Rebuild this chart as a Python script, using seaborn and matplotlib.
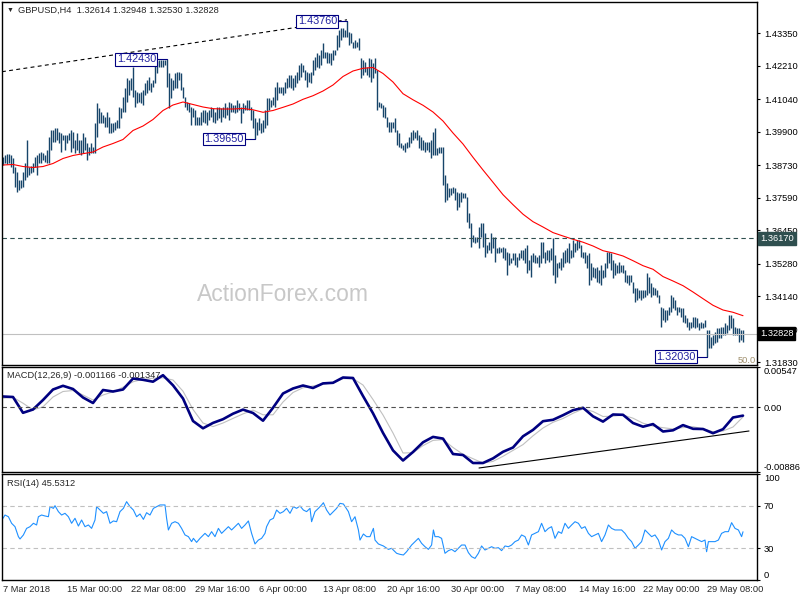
import numpy as np
import pandas as pd
import matplotlib
matplotlib.use("Agg")
import matplotlib.pyplot as plt
import seaborn as sns

sns.set_style("white")
plt.rcParams['font.family'] = ['Liberation Sans', 'DejaVu Sans']

# H4 bars, high / low
highs = [1.3902, 1.3909, 1.3912, 1.3912, 1.3909, 1.3898, 1.3867, 1.3849, 1.3821, 1.3821,
         1.3849, 1.3881, 1.3961, 1.3867, 1.3870, 1.3881, 1.3902, 1.3909, 1.3916, 1.3919,
         1.3916, 1.3909, 1.3926, 1.3972, 1.3996, 1.3996, 1.4003, 1.4003, 1.3989, 1.3986,
         1.3979, 1.3979, 1.3979, 1.3986, 1.3996, 1.3989, 1.3961, 1.3986, 1.3961, 1.3961,
         1.3986, 1.3972, 1.3951, 1.3937, 1.3951, 1.3937, 1.4021, 1.4091, 1.4073, 1.4059,
         1.4049, 1.4042, 1.4059, 1.4042, 1.4021, 1.4021, 1.4024, 1.4031, 1.4077, 1.4073,
         1.4112, 1.4143, 1.4178, 1.4171, 1.4178, 1.4217, 1.4136, 1.4129, 1.4126, 1.4129,
         1.4136, 1.4161, 1.4171, 1.4182, 1.4161, 1.4171, 1.4231, 1.4238, 1.4241, 1.4240,
         1.4241, 1.4241, 1.4243, 1.4196, 1.4178, 1.4171, 1.4196, 1.4199, 1.4199, 1.4196,
         1.4147, 1.4112, 1.4094, 1.4091, 1.4077, 1.4073, 1.4066, 1.4042, 1.4042, 1.4059,
         1.4066, 1.4066, 1.4059, 1.4066, 1.4077, 1.4073, 1.4059, 1.4077, 1.4077, 1.4073,
         1.4077, 1.4091, 1.4077, 1.4094, 1.4091, 1.4084, 1.4084, 1.4101, 1.4091, 1.4077,
         1.4091, 1.4084, 1.4101, 1.4101, 1.4077, 1.4066, 1.4038, 1.4024, 1.4038, 1.4021,
         1.4031, 1.4066, 1.4108, 1.4108, 1.4101, 1.4112, 1.4147, 1.4164, 1.4147, 1.4147,
         1.4147, 1.4164, 1.4178, 1.4189, 1.4189, 1.4178, 1.4189, 1.4199, 1.4224, 1.4231,
         1.4224, 1.4206, 1.4199, 1.4196, 1.4199, 1.4241, 1.4252, 1.4266, 1.4259, 1.4276,
         1.4301, 1.4269, 1.4269, 1.4266, 1.4266, 1.4276, 1.4276, 1.4329, 1.4346, 1.4353,
         1.4353, 1.4346, 1.4376, 1.4339, 1.4336, 1.4304, 1.4311, 1.4304, 1.4318, 1.4248,
         1.4241, 1.4234, 1.4217, 1.4248, 1.4245, 1.4231, 1.4248, 1.4206, 1.4094, 1.4091,
         1.4084, 1.4077, 1.4042, 1.4024, 1.4024, 1.4024, 1.4038, 1.3996, 1.3986, 1.3951,
         1.3944, 1.3951, 1.3954, 1.3972, 1.3989, 1.3996, 1.3989, 1.3996, 1.3979, 1.3972,
         1.3961, 1.3954, 1.3954, 1.3954, 1.3961, 1.3989, 1.4003, 1.3933, 1.3937, 1.3937,
         1.3937, 1.3839, 1.3811, 1.3793, 1.3793, 1.3797, 1.3793, 1.3779, 1.3776, 1.3779,
         1.3776, 1.3776, 1.3762, 1.3706, 1.3671, 1.3629, 1.3622, 1.3622, 1.3657, 1.3671,
         1.3671, 1.3636, 1.3594, 1.3604, 1.3636, 1.3622, 1.3622, 1.3583, 1.3587, 1.3583,
         1.3587, 1.3583, 1.3569, 1.3566, 1.3548, 1.3566, 1.3566, 1.3552, 1.3566, 1.3576,
         1.3576, 1.3583, 1.3594, 1.3541, 1.3559, 1.3566, 1.3559, 1.3552, 1.3559, 1.3604,
         1.3604, 1.3569, 1.3576, 1.3576, 1.3583, 1.3618, 1.3559, 1.3531, 1.3534, 1.3548,
         1.3569, 1.3576, 1.3583, 1.3601, 1.3576, 1.3611, 1.3601, 1.3611, 1.3611, 1.3594,
         1.3569, 1.3569, 1.3559, 1.3566, 1.3531, 1.3517, 1.3513, 1.3517, 1.3506, 1.3524,
         1.3506, 1.3531, 1.3569, 1.3569, 1.3566, 1.3541, 1.3531, 1.3524, 1.3534, 1.3524,
         1.3524, 1.3506, 1.3489, 1.3489, 1.3489, 1.3464, 1.3443, 1.3443, 1.3436, 1.3436,
         1.3436, 1.3436, 1.3496, 1.3482, 1.3461, 1.3446, 1.3443, 1.3436, 1.3419, 1.3377,
         1.3373, 1.3366, 1.3366, 1.3377, 1.3419, 1.3412, 1.3401, 1.3377, 1.3377, 1.3373,
         1.3373, 1.3349, 1.3338, 1.3324, 1.3324, 1.3342, 1.3342, 1.3338, 1.3321, 1.3324,
         1.3321, 1.3331, 1.3296, 1.3296, 1.3272, 1.3279, 1.3289, 1.3303, 1.3303, 1.3307,
         1.3307, 1.3321, 1.3314, 1.3349, 1.3349, 1.3338, 1.3307, 1.3303, 1.3303, 1.3296,
         1.32948]
lows = [1.3874, 1.3881, 1.3877, 1.3881, 1.3867, 1.3846, 1.3797, 1.3779, 1.3786, 1.3793,
        1.3797, 1.3821, 1.3832, 1.3839, 1.3846, 1.3849, 1.3867, 1.3839, 1.3881, 1.3881,
        1.3891, 1.3884, 1.3881, 1.3881, 1.3926, 1.3954, 1.3954, 1.3961, 1.3951, 1.3919,
        1.3961, 1.3926, 1.3951, 1.3961, 1.3919, 1.3933, 1.3916, 1.3926, 1.3916, 1.3909,
        1.3916, 1.3926, 1.3891, 1.3909, 1.3916, 1.3916, 1.3916, 1.3972, 1.4021, 1.4021,
        1.4021, 1.4007, 1.4007, 1.3986, 1.3986, 1.3989, 1.3996, 1.4003, 1.4003, 1.4038,
        1.4059, 1.4059, 1.4094, 1.4119, 1.4136, 1.4112, 1.4077, 1.4091, 1.4094, 1.4091,
        1.4084, 1.4119, 1.4126, 1.4136, 1.4129, 1.4147, 1.4161, 1.4196, 1.4217, 1.4217,
        1.4217, 1.4224, 1.4147, 1.4073, 1.4108, 1.4136, 1.4143, 1.4143, 1.4171, 1.4136,
        1.4108, 1.4077, 1.4066, 1.4059, 1.4014, 1.4042, 1.4014, 1.4014, 1.4014, 1.4014,
        1.4024, 1.4021, 1.4014, 1.4031, 1.4042, 1.4024, 1.4021, 1.4031, 1.4038, 1.4024,
        1.4042, 1.4038, 1.4049, 1.4031, 1.4059, 1.4059, 1.4056, 1.4059, 1.4066, 1.4021,
        1.4056, 1.4066, 1.4066, 1.4066, 1.4031, 1.4003, 1.3965, 1.3979, 1.3996, 1.3986,
        1.3989, 1.4003, 1.4014, 1.4066, 1.4077, 1.4084, 1.4077, 1.4101, 1.4126, 1.4126,
        1.4119, 1.4126, 1.4143, 1.4147, 1.4143, 1.4136, 1.4147, 1.4161, 1.4171, 1.4182,
        1.4199, 1.4171, 1.4147, 1.4164, 1.4161, 1.4189, 1.4206, 1.4217, 1.4213, 1.4224,
        1.4248, 1.4248, 1.4231, 1.4231, 1.4224, 1.4241, 1.4259, 1.4276, 1.4287, 1.4311,
        1.4322, 1.4322, 1.4322, 1.4294, 1.4301, 1.4283, 1.4283, 1.4287, 1.4276, 1.4178,
        1.4189, 1.4199, 1.4189, 1.4182, 1.4164, 1.4178, 1.4196, 1.4066, 1.4077, 1.4073,
        1.4042, 1.4038, 1.4007, 1.3989, 1.3989, 1.4003, 1.3989, 1.3944, 1.3937, 1.3933,
        1.3926, 1.3919, 1.3933, 1.3937, 1.3951, 1.3961, 1.3968, 1.3961, 1.3933, 1.3926,
        1.3926, 1.3919, 1.3926, 1.3919, 1.3898, 1.3909, 1.3909, 1.3909, 1.3916, 1.3916,
        1.3804, 1.3744, 1.3751, 1.3762, 1.3769, 1.3776, 1.3751, 1.3716, 1.3727, 1.3744,
        1.3758, 1.3758, 1.3674, 1.3653, 1.3587, 1.3604, 1.3601, 1.3604, 1.3583, 1.3622,
        1.3587, 1.3552, 1.3566, 1.3576, 1.3566, 1.3583, 1.3534, 1.3566, 1.3566, 1.3569,
        1.3548, 1.3541, 1.3489, 1.3524, 1.3531, 1.3541, 1.3524, 1.3517, 1.3541, 1.3548,
        1.3541, 1.3531, 1.3496, 1.3506, 1.3482, 1.3534, 1.3531, 1.3531, 1.3517, 1.3531,
        1.3548, 1.3531, 1.3541, 1.3534, 1.3541, 1.3489, 1.3461, 1.3482, 1.3513, 1.3506,
        1.3517, 1.3531, 1.3534, 1.3531, 1.3548, 1.3552, 1.3569, 1.3576, 1.3583, 1.3552,
        1.3548, 1.3531, 1.3513, 1.3454, 1.3471, 1.3482, 1.3478, 1.3464, 1.3461, 1.3454,
        1.3478, 1.3482, 1.3513, 1.3531, 1.3506, 1.3478, 1.3489, 1.3496, 1.3496, 1.3499,
        1.3496, 1.3464, 1.3461, 1.3454, 1.3464, 1.3426, 1.3394, 1.3401, 1.3408, 1.3401,
        1.3408, 1.3412, 1.3419, 1.3426, 1.3412, 1.3419, 1.3419, 1.3412, 1.3391, 1.3307,
        1.3331, 1.3324, 1.3331, 1.3349, 1.3359, 1.3373, 1.3366, 1.3349, 1.3359, 1.3342,
        1.3324, 1.3321, 1.3307, 1.3296, 1.3303, 1.3307, 1.3303, 1.3307, 1.3296, 1.3303,
        1.3303, 1.3307, 1.3203, 1.3233, 1.3233, 1.3244, 1.3251, 1.3254, 1.3268, 1.3268,
        1.3279, 1.3279, 1.3286, 1.3296, 1.3303, 1.3279, 1.3279, 1.3279, 1.3254, 1.3261,
        1.3253]

# moving average, MACD and signal, read every 5 bars
ma = [1.38735, 1.38753, 1.38682, 1.38648, 1.38682, 1.38788, 1.38963, 1.39068, 1.39131, 1.39190,
      1.39365, 1.39488, 1.39628, 1.39943, 1.40100, 1.40328, 1.40643, 1.40835, 1.40940, 1.40853,
      1.40765, 1.40706, 1.40695, 1.40695, 1.40713, 1.40667, 1.40580, 1.40643, 1.40754, 1.40870,
      1.41034, 1.41160, 1.41325, 1.41535, 1.41833, 1.42025, 1.42120, 1.42148, 1.41938, 1.41640,
      1.41230, 1.41017, 1.40825, 1.40590, 1.40275, 1.39855, 1.39470, 1.39004, 1.38560, 1.38130,
      1.37696, 1.37346, 1.37013, 1.36751, 1.36565, 1.36369, 1.36250, 1.36135, 1.36033, 1.35900,
      1.35736, 1.35655, 1.35550, 1.35386, 1.35211, 1.35085, 1.34830, 1.34675, 1.34511, 1.34290,
      1.34056, 1.33825, 1.33660, 1.33580, 1.33461]
macd = [0.001444, 0.001376, -0.000781, -0.000330, 0.000966, 0.002399, 0.002904, 0.002467, 0.001307, 0.000557,
        0.002331, 0.002126, 0.002399, 0.003900, 0.003723, 0.003464, 0.004351, 0.002972, 0.001171, -0.001900,
        -0.002896, -0.002159, -0.001654, -0.000904, -0.000344, -0.000808, -0.001859, -0.000098, 0.001853, 0.002536,
        0.002945, 0.002604, 0.003232, 0.003314, 0.004037, 0.003969, 0.001512, -0.000849, -0.003524, -0.005912,
        -0.007291, -0.006131, -0.004807, -0.004070, -0.004302, -0.006404, -0.006540, -0.007632, -0.007632, -0.007004,
        -0.006104, -0.005517, -0.003988, -0.003115, -0.001927, -0.001736, -0.001108, -0.000426, -0.000098, -0.001258,
        -0.001982, -0.001013, -0.001054, -0.002173, -0.002678, -0.002323, -0.003333, -0.003169, -0.002459, -0.002964,
        -0.002992, -0.003565, -0.003019, -0.001422, -0.001166]
signal = [0.001212, 0.001335, 0.000529, -0.000385, 0.000038, 0.001376, 0.002126, 0.002263, 0.001649, 0.000966,
          0.001649, 0.002085, 0.002713, 0.003450, 0.003805, 0.003928, 0.003996, 0.003696, 0.002167, -0.000330,
          -0.002173, -0.002664, -0.002173, -0.001545, -0.000931, -0.000412, -0.001054, -0.001054, 0.000693, 0.001990,
          0.002631, 0.002877, 0.003150, 0.003300, 0.003873, 0.003887, 0.003013, 0.001034, -0.001081, -0.003538,
          -0.006267, -0.006226, -0.005257, -0.004548, -0.004438, -0.005517, -0.006445, -0.007045, -0.007646, -0.007414,
          -0.006718, -0.005912, -0.005121, -0.003920, -0.002855, -0.002077, -0.001559, -0.000849, -0.000249, -0.000603,
          -0.001286, -0.001245, -0.001081, -0.001518, -0.002200, -0.002596, -0.002814, -0.002978, -0.002801, -0.002678,
          -0.002964, -0.003360, -0.003265, -0.002719, -0.001347]

# RSI(14)
rsi_idx = [0, 1, 2.7, 4.3, 6, 7.7, 8.5, 10.2, 11.8, 13.5,
           15.2, 16.8, 17.7, 19.3, 21, 22.7, 23.5, 25.2, 26, 27.7,
           29.3, 31, 32.7, 34.3, 36, 37.7, 39.3, 41, 42.7, 44.3,
           46, 46.8, 48.5, 50.2, 51.8, 53.5, 55.2, 56.8, 58.5, 60.2,
           61.8, 63.5, 65.2, 66.8, 68.5, 70.2, 71.8, 73.5, 75.2, 76.8,
           78.5, 81, 81.8, 82.7, 84.3, 86, 87.7, 89.3, 91, 92.7,
           94.3, 95.2, 96.8, 98.5, 101, 102.7, 104.3, 106, 107.7, 109.3,
           111, 112.7, 114.3, 116, 117.7, 119.3, 121, 122.7, 124.3, 126,
           127.7, 129.3, 131, 131.8, 133.5, 135.2, 136.8, 138.5, 140.2, 141.8,
           143.5, 145.2, 146.8, 148.5, 150.2, 151.8, 153.5, 154.3, 156, 157.7,
           159.3, 160.2, 161.8, 163.5, 165.2, 166.8, 168.5, 170.2, 172.7, 174.3,
           176, 177.7, 178.5, 180.2, 181.8, 183.5, 185.2, 186, 187.7, 190.2,
           192.7, 194.3, 196.8, 198.5, 200.2, 201.8, 204.3, 206, 207.7, 209.3,
           211, 212.7, 214.3, 215.2, 216, 217.7, 219.3, 221, 222.7, 224.3,
           226, 227.7, 229.3, 231, 232.7, 234.3, 236, 237.7, 239.3, 241,
           242.7, 244.3, 246, 247.7, 249.3, 251, 252.7, 254.3, 256, 257.7,
           259.3, 261, 262.7, 264.3, 266, 267.7, 269.3, 271, 272.7, 274.3,
           276, 277.7, 279.3, 281, 282.7, 284.3, 286, 287.7, 289.3, 291,
           292.7, 294.3, 296, 297.7, 299.3, 301, 302.7, 304.3, 306, 307.7,
           309.3, 311, 312.7, 314.3, 316, 317.7, 319.3, 321, 322.7, 324.3,
           326, 327.7, 329.3, 331, 332.7, 334.3, 336, 337.7, 339.3, 341,
           342.7, 344.3, 346, 347.7, 349.3, 351, 351.8, 352.7, 354.3, 356,
           357.7, 359.3, 361, 362.7, 364.3, 366, 367.7, 369.3, 370]
rsi_val = [58.2, 61.3, 59.7, 53.5, 50.3, 40.9, 38.7, 42.5, 48.7, 50.3,
           53.5, 51.9, 59.7, 61.3, 60.4, 59.7, 69.2, 67.6, 70.1, 64.5,
           61.3, 62.9, 59.7, 53.5, 58.2, 50.9, 56.6, 50.3, 51.9, 48.7,
           56.6, 69.2, 66.0, 62.9, 64.5, 53.5, 55.7, 55.0, 64.5, 67.6,
           73.9, 69.2, 66.0, 59.7, 62.3, 57.2, 63.5, 61.3, 67.6, 69.2,
           70.8, 70.8, 58.2, 47.2, 53.5, 55.0, 53.5, 48.7, 42.5, 40.9,
           36.2, 39.3, 35.5, 39.3, 44.0, 40.9, 45.6, 40.9, 48.7, 44.0,
           47.2, 50.3, 47.2, 50.3, 53.5, 48.7, 51.9, 55.7, 44.0, 34.0,
           37.7, 39.3, 44.0, 50.3, 56.6, 58.2, 66.0, 62.9, 64.5, 67.6,
           62.9, 69.2, 67.6, 69.8, 66.0, 64.5, 67.6, 55.0, 64.5, 67.6,
           70.8, 72.9, 66.0, 61.3, 64.5, 67.6, 72.3, 71.7, 64.5, 55.0,
           59.7, 47.2, 37.7, 43.4, 40.9, 40.9, 48.7, 37.7, 34.0, 32.1,
           28.9, 29.9, 25.2, 24.2, 23.6, 26.7, 33.0, 36.2, 39.3, 34.6,
           31.4, 28.9, 33.0, 47.2, 40.9, 40.9, 39.3, 25.2, 27.7, 28.9,
           26.7, 29.9, 33.0, 33.0, 25.8, 22.0, 20.4, 25.2, 32.1, 28.3,
           29.9, 31.4, 29.9, 30.5, 27.7, 32.1, 31.4, 33.0, 36.2, 37.7,
           42.5, 40.9, 33.0, 42.5, 44.0, 45.6, 53.5, 45.6, 48.7, 50.3,
           39.3, 45.6, 44.0, 53.5, 48.7, 51.9, 55.0, 53.5, 48.7, 50.3,
           44.0, 40.9, 42.5, 44.0, 36.2, 42.5, 51.9, 48.7, 47.2, 47.2,
           47.2, 44.0, 39.3, 36.2, 29.9, 33.0, 36.2, 47.2, 44.0, 40.9,
           42.5, 37.7, 28.3, 36.2, 39.3, 47.2, 44.0, 42.5, 42.5, 39.3,
           31.4, 40.9, 39.3, 37.7, 36.2, 37.7, 26.7, 36.2, 36.2, 36.2,
           37.7, 44.0, 45.6, 45.6, 54.1, 48.7, 47.2, 40.9, 45.5]

tick_bars = [0, 32, 64, 96, 128, 160, 192, 224, 256, 288, 320, 352]
tick_labels = ["7 Mar 2018", "15 Mar 00:00", "22 Mar 08:00", "29 Mar 16:00", "6 Apr 00:00",
               "13 Apr 08:00", "20 Apr 16:00", "30 Apr 00:00", "7 May 08:00", "14 May 16:00",
               "22 May 00:00", "29 May 08:00"]
price_ticks = [1.43350, 1.42210, 1.41040, 1.39900, 1.38730, 1.37590, 1.36450,
               1.35280, 1.34140, 1.32980, 1.31830]

bars = pd.DataFrame({"bar": np.arange(len(highs)), "high": highs, "low": lows})
lines = pd.DataFrame({"bar": np.arange(0, 371, 5), "ma": ma, "macd": macd, "signal": signal})
rsi = pd.DataFrame({"bar": rsi_idx, "rsi": rsi_val})

FS = 6.7
bar_col = "#17456a"

fig = plt.figure(figsize=(8, 6), dpi=100)
fig.patch.set_facecolor("white")
W = 755 / 800
ax = fig.add_axes([2 / 800, 1 - 365 / 600, W, 363 / 600])
ax2 = fig.add_axes([2 / 800, 1 - 472 / 600, W, 105 / 600])
ax3 = fig.add_axes([2 / 800, 1 - 580 / 600, W, 106 / 600])

for a in (ax, ax2, ax3):
    a.set_xlim(-0.5, 377)
    for s in a.spines.values():
        s.set_color("black")
        s.set_linewidth(1.0)
    a.yaxis.tick_right()
    a.tick_params(axis="y", direction="out", length=2.5, width=0.8, pad=2.5,
                  labelsize=FS, colors="black")

# ---- main price panel
ax.text(139.75, 1.4451 - 0.00035 * 294.5, "ActionForex.com", ha="center", va="center",
        fontsize=16.5, color="#c8c8c8", zorder=0)
ax.vlines(bars["bar"], bars["low"], bars["high"], color=bar_col, lw=1.0)
sns.lineplot(data=lines, x="bar", y="ma", ax=ax, color="#ff0000", linewidth=0.8)
ax.set_ylim(1.31735, 1.4444)
ax.axhline(1.3617, color="#2f4f4f", lw=0.8, ls=(0, (4, 3)))
ax.axhline(1.32828, color="#c0c0c0", lw=0.8)
ax.plot([-0.5, 172], [1.4200, 1.43817], color="black", lw=0.8, ls=(0, (3.5, 3)))
ax.set_yticks(price_ticks)
ax.set_yticklabels(["%.5f" % t for t in price_ticks])
ax.set_xticks([])
ax.set_xlabel("")
ax.set_ylabel("")

# swing high / low labels
swings = [(76.5, 82, 1.4243, "1.42430"), (167.0, 172, 1.4376, "1.43760"),
          (120.5, 126, 1.3965, "1.39650"), (346.5, 352, 1.3203, "1.32030")]
for xb, xe, p, txt in swings:
    ax.plot([xb + 0.5, xe], [p, p], color="#000080", lw=0.8, zorder=5)
    ax.text(xb, p, txt, ha="right", va="center", fontsize=7.8, color="#2020a0", zorder=6,
            bbox=dict(boxstyle="square,pad=0.12", fc="white", ec="#000080", lw=0.8))

yt = ax.get_yaxis_transform()
ax.text(1.004, 1.3617, "1.36170", transform=yt, ha="left", va="center", fontsize=FS,
        color="white", clip_on=False,
        bbox=dict(boxstyle="square,pad=0.2", fc="#2f4f4f", ec="#2f4f4f"))
ax.text(1.004, 1.32828, "1.32828", transform=yt, ha="left", va="center", fontsize=FS,
        color="white", clip_on=False,
        bbox=dict(boxstyle="square,pad=0.2", fc="black", ec="black"))
ax.text(0.998, 0.006, "50.0", transform=ax.transAxes, ha="right", va="baseline",
        fontsize=FS, color="#a0906e")

# ---- MACD panel
sns.lineplot(data=lines, x="bar", y="signal", ax=ax2, color="#c0c0c0", linewidth=0.8)
sns.lineplot(data=lines, x="bar", y="macd", ax=ax2, color="#000080", linewidth=1.9)
ax2.set_ylim(-0.00886, 0.00547)
ax2.axhline(0, color="#505050", lw=0.8, ls=(0, (4, 3)))
ax2.plot([238, 373], [-0.008314, -0.003265], color="black", lw=0.8)
ax2.set_yticks([-0.00886, 0, 0.00547])
ax2.set_yticklabels(["-0.00886", "0.00", "0.00547"])
lbl = ax2.get_yticklabels()
lbl[0].set_va("bottom")
lbl[2].set_va("top")
ax2.set_xticks([])
ax2.set_xlabel("")
ax2.set_ylabel("")

# ---- RSI panel
sns.lineplot(data=rsi, x="bar", y="rsi", ax=ax3, color="#1e90ff", linewidth=0.8)
ax3.set_ylim(0, 100)
ax3.axhline(70, color="#c0c0c0", lw=0.8, ls=(0, (4, 3)))
ax3.axhline(30, color="#c0c0c0", lw=0.8, ls=(0, (4, 3)))
ax3.set_yticks([0, 30, 70, 100])
ax3.set_yticklabels(["0", "30", "70", "100"])
lbl = ax3.get_yticklabels()
lbl[0].set_va("bottom")
lbl[3].set_va("top")
ax3.set_xticks(tick_bars)
ax3.set_xticklabels(tick_labels, ha="left")
ax3.tick_params(axis="x", direction="out", length=2.5, width=0.8, pad=1.0, labelsize=FS)
ax3.set_xlabel("")
ax3.set_ylabel("")

# headers
fig.text(7 / 800, 1 - 10 / 600, "\u25bc", fontsize=5, va="center", ha="left")
fig.text(18 / 800, 1 - 10 / 600, "GBPUSD,H4  1.32614 1.32948 1.32530 1.32828",
         fontsize=FS, va="center", ha="left")
fig.text(7 / 800, 1 - 376 / 600, "MACD(12,26,9) -0.001166 -0.001347",
         fontsize=FS, va="center", ha="left")
fig.text(7 / 800, 1 - 484 / 600, "RSI(14) 45.5312", fontsize=FS, va="center", ha="left")

fig.savefig("out.png", dpi=100, facecolor="white")
